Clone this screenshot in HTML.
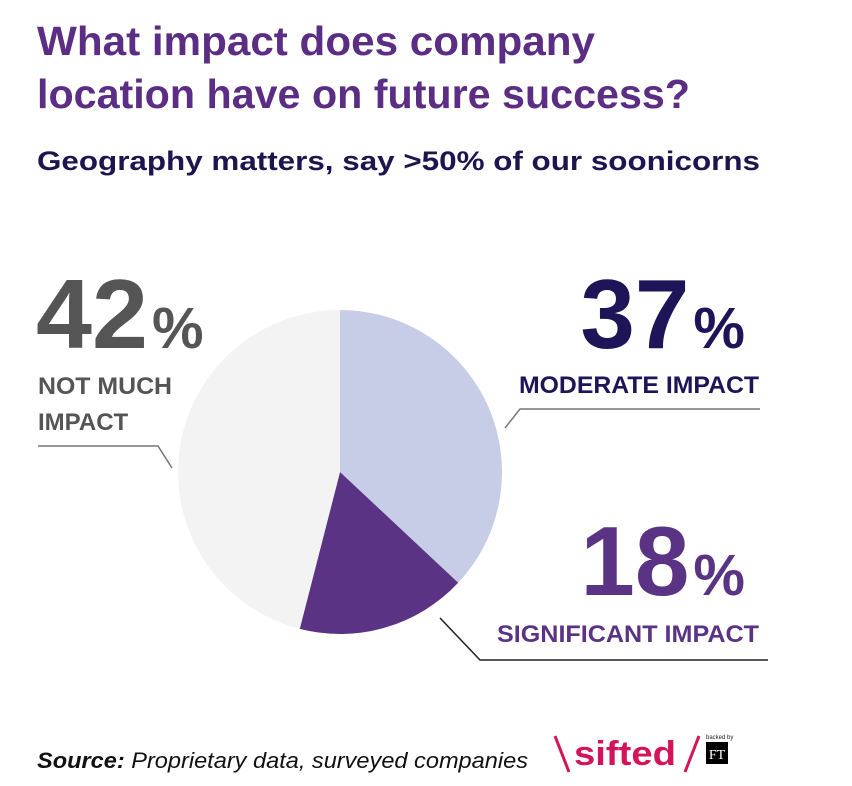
<!DOCTYPE html>
<html><head><meta charset="utf-8"><style>
body{margin:0;background:#fff;}
svg{display:block;font-family:"Liberation Sans",sans-serif;}
</style></head><body>
<svg width="852" height="786" viewBox="0 0 852 786">
<text x="37" y="55" font-size="41" font-weight="bold" fill="#5b2d84" textLength="558" lengthAdjust="spacingAndGlyphs">What impact does company</text>
<text x="37" y="108" font-size="41" font-weight="bold" fill="#5b2d84" textLength="653" lengthAdjust="spacingAndGlyphs">location have on future success?</text>
<text x="37" y="170" font-size="27" font-weight="bold" fill="#1e1450" textLength="723" lengthAdjust="spacingAndGlyphs">Geography matters, say &gt;50% of our soonicorns</text>

<path d="M340,472 L340,310 A162,162 0 0 1 458.2,582.8 Z" fill="#c7cde6"/>
<path d="M340,472 L458.2,582.8 A162,162 0 0 1 299.7,628.9 Z" fill="#5a3385"/>
<path d="M340,472 L299.7,628.9 A162,162 0 0 1 340,310 Z" fill="#f3f3f4"/>

<text x="36" y="348" font-size="98" font-weight="bold" fill="#555"><tspan textLength="112" lengthAdjust="spacingAndGlyphs">42</tspan><tspan font-size="58" dx="4">%</tspan></text>
<text x="38" y="394" font-size="24" font-weight="bold" fill="#555" textLength="134" lengthAdjust="spacingAndGlyphs">NOT MUCH</text>
<text x="38" y="430" font-size="24" font-weight="bold" fill="#555">IMPACT</text>
<polyline points="38,446 158,446 172,468" fill="none" stroke="#777" stroke-width="1.5"/>

<text x="745" y="348" text-anchor="end" font-size="98" font-weight="bold" fill="#1e1458"><tspan>37</tspan><tspan font-size="58" dx="4">%</tspan></text>
<text x="519" y="393" font-size="24" font-weight="bold" fill="#1e1458" textLength="240" lengthAdjust="spacingAndGlyphs">MODERATE IMPACT</text>
<polyline points="760,409 520,409 505,428" fill="none" stroke="#777" stroke-width="1.5"/>

<text x="745" y="595" text-anchor="end" font-size="98" font-weight="bold" fill="#5a3385"><tspan>18</tspan><tspan font-size="58" dx="4">%</tspan></text>
<text x="497" y="642" font-size="24" font-weight="bold" fill="#5a3385" textLength="262" lengthAdjust="spacingAndGlyphs">SIGNIFICANT IMPACT</text>
<polyline points="768,660 480,660 440,618" fill="none" stroke="#222" stroke-width="1.5"/>

<text x="37" y="768" font-size="22" font-style="italic" fill="#111" textLength="491" lengthAdjust="spacingAndGlyphs"><tspan font-weight="bold">Source:</tspan> Proprietary data, surveyed companies</text>

<line x1="555" y1="736" x2="569" y2="772" stroke="#d4145a" stroke-width="3"/>
<text x="574" y="765" font-size="34" font-weight="bold" fill="#d4145a" textLength="102" lengthAdjust="spacingAndGlyphs">sifted</text>
<line x1="699" y1="736" x2="685" y2="772" stroke="#d4145a" stroke-width="3"/>
<text x="706" y="739" font-size="6" fill="#222">backed by</text>
<rect x="706" y="742" width="22" height="22" fill="#000"/>
<text x="717" y="759" text-anchor="middle" font-size="14" font-family="Liberation Serif" fill="#fff">FT</text>
</svg>
</body></html>
